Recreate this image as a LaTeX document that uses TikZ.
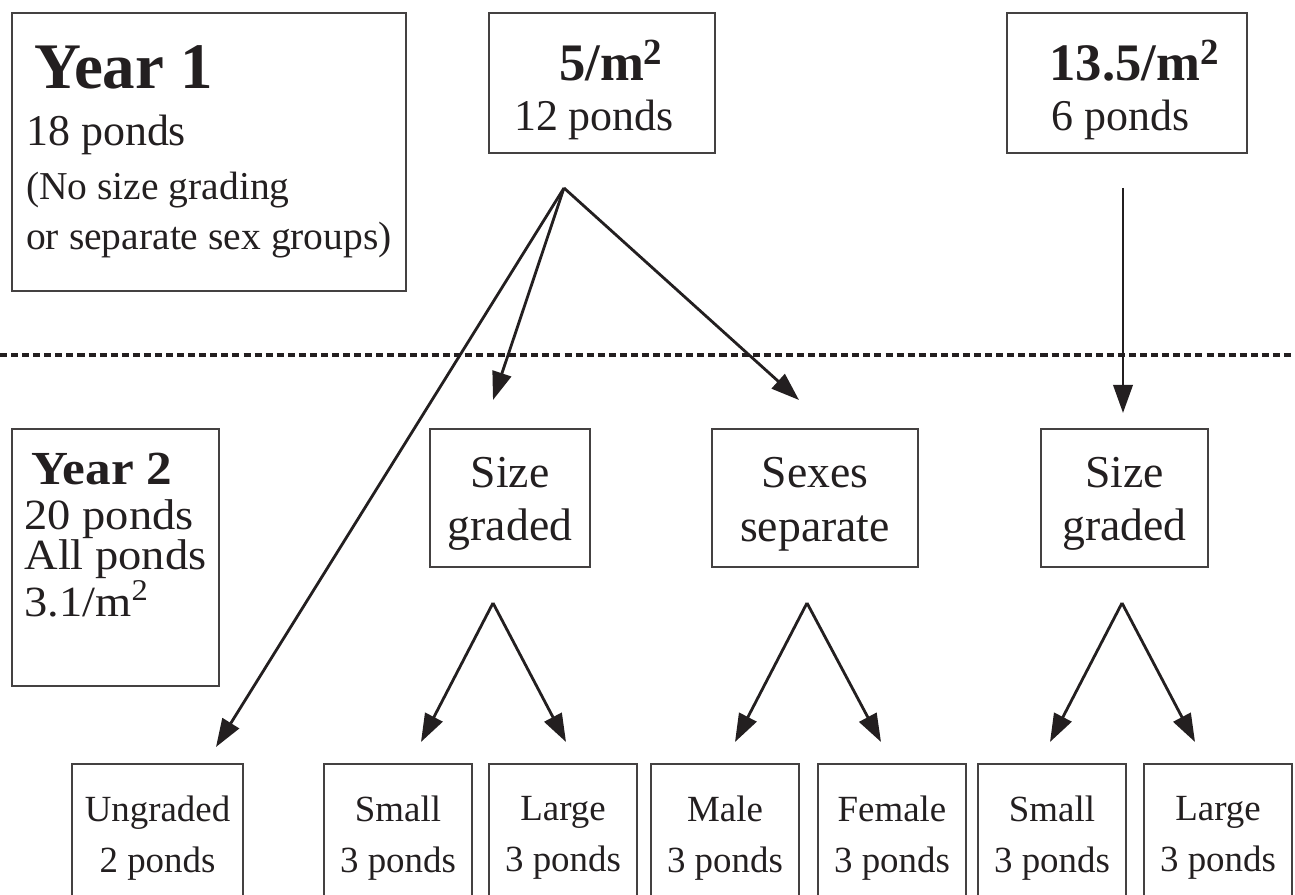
\documentclass[tikz,border=0pt]{standalone}
\usepackage{fontspec}
\setmainfont{Liberation Serif}
\newfontfamily\widefont[FakeStretch=1.08]{Liberation Serif}
\usetikzlibrary{arrows.meta}
\definecolor{ink}{RGB}{35,31,32}

\begin{document}
\begin{tikzpicture}[x=0.02cm, y=-0.02cm, ink,
    box/.style={draw=ink!85, line width=0.7pt, inner sep=0pt, align=center},
    pool/.style={box, minimum width=2.96cm, minimum height=2.96cm, font=\fontsize{21}{29}\selectfont},
    split/.style={box, minimum height=2.76cm, font=\fontsize{26}{30.5}\selectfont},
    dens/.style={box, align=left, minimum height=2.8cm, font=\fontsize{25}{28.5}\selectfont},
    arr/.style={-{Triangle[length=16pt,width=11pt]}, line width=1.6pt},
    yearline/.style={line width=2.2pt, dash pattern=on 4pt off 2.3pt}]
    \useasboundingbox (0,0) rectangle (1295,895);
    \clip (0,0) rectangle (1295,895);

    % Year 1
    \node[box, align=left, minimum width=7.88cm, minimum height=5.56cm,
          font=\fontsize{22.5}{28.5}\selectfont] (yr1) at (209,152)
        {\hspace*{0.16cm}{\fontsize{37}{37}\selectfont\bfseries Year 1}\\[3.5pt]
         {\fontsize{25}{28.5}\selectfont 18 ponds}\\[2.5pt]
         (No size grading\\
         or separate sex groups)};
    \node[dens, minimum width=4.52cm] (d5) at (602,83)
        {\rule{0pt}{31pt}\hspace*{0.9cm}{\fontsize{30}{30}\selectfont\bfseries 5/m\textsuperscript{2}}\\
         12 ponds\hspace*{0.32cm}};
    \node[dens, minimum width=4.8cm] (d13) at (1127,83)
        {\rule{0pt}{31pt}\hspace*{0.3cm}{\fontsize{30}{30}\selectfont\bfseries 13.5/m\textsuperscript{2}}\\
         \hspace*{0.34cm}6 ponds};

    % between the years
    \draw[yearline] (0,355) -- (1295,355);

    % Year 2
    \node[box, align=left, minimum width=4.14cm, minimum height=5.14cm,
          font=\widefont\fontsize{24.5}{23}\selectfont] (yr2) at (115.5,557.5)
        {\hspace*{0.14cm}{\fontsize{27}{23}\selectfont\bfseries Year 2}\\[2.5pt]
         20 ponds\\All ponds\\3.1/m\textsuperscript{2}\rule[-26pt]{0pt}{26pt}};
    \node[split, minimum width=3.2cm] (sg1) at (510,498) {\rule{0pt}{24pt}Size\\graded};
    \node[split, minimum width=4.12cm] (sep) at (815,498) {\rule{0pt}{24pt}Sexes\\separate};
    \node[split, minimum width=3.34cm] (sg2) at (1124.5,498) {\rule{0pt}{24pt}Size\\graded};

    % pond groups
    \node[pool, minimum width=3.42cm] (ung) at (157.5,838) {Ungraded\\2 ponds};
    \node[pool] (sm1) at (398,838) {Small\\3 ponds};
    \node[pool] (lg1) at (563,838) {Large\\3 ponds};
    \node[pool] (male) at (725,838) {Male\\3 ponds};
    \node[pool] (fem) at (892,838) {Female\\3 ponds};
    \node[pool] (sm2) at (1052,838) {Small\\3 ponds};
    \node[pool] (lg2) at (1218,838) {Large\\3 ponds};

    % arrow ends
    \coordinate (f5) at (564,188);
    \coordinate (f13) at (1123,188);
    \coordinate (to-ung) at (216,747);
    \coordinate (to-sg1) at (493,400);
    \coordinate (to-sep) at (799,400);
    \coordinate (to-sg2) at (1123,413);
    \coordinate (f-sg1) at (493,603);
    \coordinate (f-sep) at (807,603);
    \coordinate (f-sg2) at (1122,603);
    \coordinate (to-sm1) at (421,742);
    \coordinate (to-lg1) at (566,742);
    \coordinate (to-male) at (735,742);
    \coordinate (to-fem) at (881,742);
    \coordinate (to-sm2) at (1050,742);
    \coordinate (to-lg2) at (1195,742);

    \draw[arr] (f5) -- (to-ung);
    \draw[arr] (f5) -- (to-sg1);
    \draw[arr] (f5) -- (to-sep);
    \draw[arr] (f13) -- (to-sg2);
    \draw[arr] (f-sg1) -- (to-sm1);
    \draw[arr] (f-sg1) -- (to-lg1);
    \draw[arr] (f-sep) -- (to-male);
    \draw[arr] (f-sep) -- (to-fem);
    \draw[arr] (f-sg2) -- (to-sm2);
    \draw[arr] (f-sg2) -- (to-lg2);
\end{tikzpicture}
\end{document}
